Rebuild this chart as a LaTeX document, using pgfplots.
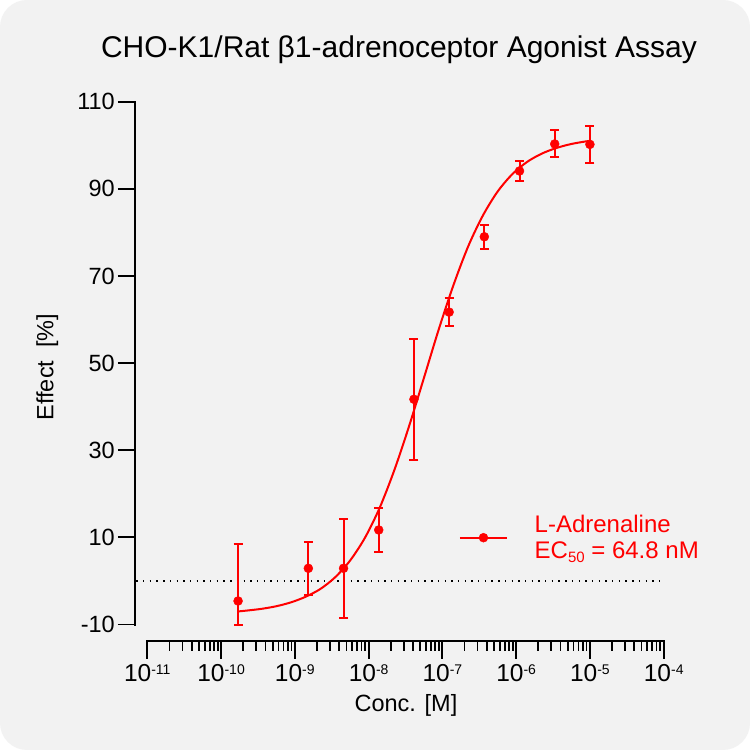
\documentclass[border=0pt]{standalone}
\usepackage{pgfplots}
\pgfplotsset{compat=1.18}
\usepackage{fontspec}
\setmainfont{Liberation Sans}
\definecolor{bg}{HTML}{F2F2F2}
\definecolor{cred}{HTML}{FF0000}

% 10^-n tick label, superscript as small raised text
\newcommand{\tl}[1]{10\raisebox{0.3em}{\fontsize{14}{14}\selectfont -#1}}

\pgfplotstableread{
c        e      ep    em
1.7e-10  -4.6   13.1  5.4
1.524e-9  2.9   6.1   6.1
4.572e-9  2.9   11.4  11.4
1.372e-8  11.7  5.0   5.0
4.115e-8  41.7  13.9  13.9
1.235e-7  61.7  3.2   3.2
3.704e-7  79.0  2.8   2.8
1.111e-6  94.1  2.3   2.3
3.333e-6  100.3 3.1   3.1
1e-5      100.2 4.2   4.2
}\adrenaline

\begin{document}
\begin{tikzpicture}[x=1pt,y=1pt]
\fill[white] (0,0) rectangle (750,750);
\fill[bg, rounded corners=27pt] (0,0) rectangle (750,750);
\useasboundingbox (0,0) rectangle (750,750);

\node[anchor=base, font=\fontsize{30}{30}\selectfont] at (399,692) {CHO-K1/Rat β1-adrenoceptor Agonist Assay};
\node[anchor=base, font=\fontsize{23.5}{24}\selectfont] at (406,38) {Conc. [M]};
\node[anchor=base, rotate=90, font=\fontsize{23.5}{24}\selectfont] at (53.3,383) {Effect\ \ [\%]};

\begin{axis}[
  at={(135pt,108.5pt)}, anchor=south west,
  scale only axis, width=528.7pt, height=539.8pt,
  clip=false,
  xmode=log, xmin=6.81e-12, xmax=1e-4,
  ymin=-13.9, ymax=110,
  axis lines=left, axis line style={draw=none},
  tick align=outside,
  major tick length=17pt, minor tick length=9pt,
  every tick/.style={black, line width=1.8pt},
  ytick={-10,10,30,50,70,90,110},
  yticklabels={-10,10,30,50,70,90,110},
  xtick={1e-11,1e-10,1e-9,1e-8,1e-7,1e-6,1e-5,1e-4},
  xticklabels={\tl{11},\tl{10},\tl{9},\tl{8},\tl{7},\tl{6},\tl{5},\tl{4}},
  minor xtick={2e-11,3e-11,4e-11,5e-11,6e-11,7e-11,8e-11,9e-11,
               2e-10,3e-10,4e-10,5e-10,6e-10,7e-10,8e-10,9e-10,
               2e-9,3e-9,4e-9,5e-9,6e-9,7e-9,8e-9,9e-9,
               2e-8,3e-8,4e-8,5e-8,6e-8,7e-8,8e-8,9e-8,
               2e-7,3e-7,4e-7,5e-7,6e-7,7e-7,8e-7,9e-7,
               2e-6,3e-6,4e-6,5e-6,6e-6,7e-6,8e-6,9e-6,
               2e-5,3e-5,4e-5,5e-5,6e-5,7e-5,8e-5,9e-5},
  yticklabel style={font=\fontsize{23.5}{24}\selectfont, inner sep=3pt},
  xticklabel style={font=\fontsize{24.5}{25}\selectfont, inner sep=6pt},
  legend style={draw=none, fill=none, inner sep=0pt, outer sep=0pt,
    at={(0.6128,0.1923)}, anchor=west,
    nodes={inner sep=0pt, align=left, text=cred, font=\fontsize{24}{26.7}\selectfont},
    /tikz/every odd column/.append style={column sep=26.7pt}},
]
\draw[line width=2pt, line cap=rect] (axis cs:1e-11,-13.9) -- (axis cs:1e-4,-13.9);
\draw[line width=2pt, line cap=rect] (axis cs:6.81e-12,-10) -- (axis cs:6.81e-12,110);

\addplot[black, line width=1.4pt, dash pattern=on 1.4pt off 5.3pt, forget plot]
  coordinates {(7.1e-12,0) (9e-5,0)};

\addplot[cred, line width=2pt, no marks, smooth, forget plot] coordinates {
  (1.7e-10,-7.0) (2.239e-10,-6.8) (3.548e-10,-6.4) (5.623e-10,-5.8)
  (8.913e-10,-4.9) (1.413e-9,-3.6) (2.239e-9,-1.8) (3.548e-9,0.9)
  (5.623e-9,4.7) (8.913e-9,9.9) (1.413e-8,16.8) (2.239e-8,25.5)
  (3.548e-8,35.6) (5.623e-8,46.6) (8.913e-8,57.7) (1.413e-7,67.9)
  (2.239e-7,76.8) (3.548e-7,83.9) (5.623e-7,89.4) (8.913e-7,93.4)
  (1.413e-6,96.2) (2.239e-6,98.1) (3.548e-6,99.4) (5.623e-6,100.3)
  (8.913e-6,100.9) (1e-5,101.0)
};

\addplot[cred, only marks, mark=*, mark size=4.5pt,
  legend image code/.code={
    \draw[cred, line width=2pt] (0pt,0pt) -- (47pt,0pt);
    \fill[cred] (23.5pt,0pt) circle (4.5pt);},
  error bars/.cd, y dir=both, y explicit,
  error bar style={line width=2pt, cred},
  error mark options={rotate=90, line width=2pt, mark size=4.5pt, cred}]
  table[x=c, y=e, y error plus=ep, y error minus=em] {\adrenaline};
\addlegendentry{L-Adrenaline\\EC\raisebox{-4pt}{\fontsize{15}{15}\selectfont 50} = 64.8 nM}
\end{axis}
\end{tikzpicture}
\end{document}
